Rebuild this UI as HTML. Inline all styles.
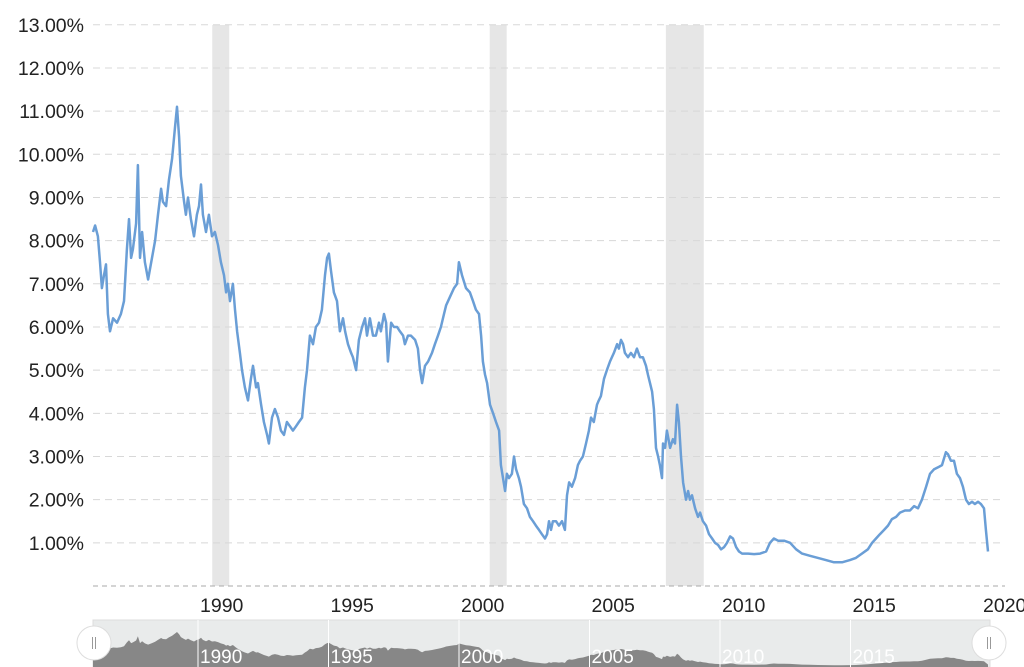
<!DOCTYPE html>
<html><head><meta charset="utf-8"><style>
html,body{margin:0;padding:0;background:#fff;}
svg{display:block;font-family:"Liberation Sans",sans-serif;}
</style></head><body>
<svg id="chart" width="1024" height="667" viewBox="0 0 1024 667" xmlns="http://www.w3.org/2000/svg"></svg>
<script>
const years=[1985.90,1985.98,1986.09,1986.17,1986.24,1986.32,1986.40,1986.47,1986.55,1986.67,1986.82,1986.97,1987.09,1987.20,1987.28,1987.36,1987.43,1987.55,1987.62,1987.70,1987.78,1987.89,1988.01,1988.16,1988.28,1988.39,1988.51,1988.58,1988.70,1988.81,1988.93,1989.04,1989.12,1989.20,1989.27,1989.39,1989.46,1989.54,1989.65,1989.77,1989.88,1989.96,1990.04,1990.11,1990.23,1990.34,1990.46,1990.57,1990.69,1990.80,1990.92,1991.00,1991.07,1991.15,1991.26,1991.34,1991.42,1991.53,1991.61,1991.72,1991.84,1991.95,1992.03,1992.15,1992.22,1992.34,1992.45,1992.57,1992.64,1992.76,1992.87,1992.99,1993.10,1993.22,1993.33,1993.45,1993.56,1993.68,1993.79,1993.91,1994.02,1994.10,1994.21,1994.33,1994.44,1994.56,1994.67,1994.79,1994.87,1994.94,1995.02,1995.13,1995.25,1995.36,1995.48,1995.56,1995.67,1995.79,1995.86,1995.98,1996.09,1996.21,1996.32,1996.40,1996.51,1996.63,1996.74,1996.86,1996.93,1997.05,1997.13,1997.20,1997.32,1997.43,1997.55,1997.66,1997.78,1997.85,1997.97,1998.08,1998.24,1998.35,1998.43,1998.51,1998.62,1998.74,1998.89,1999.00,1999.12,1999.23,1999.35,1999.43,1999.58,1999.73,1999.85,1999.92,2000.04,2000.19,2000.34,2000.46,2000.57,2000.69,2000.77,2000.84,2000.92,2001.00,2001.11,2001.23,2001.34,2001.46,2001.53,2001.61,2001.69,2001.76,2001.84,2001.95,2002.03,2002.11,2002.22,2002.30,2002.41,2002.53,2002.64,2002.76,2002.87,2002.99,2003.10,2003.22,2003.30,2003.37,2003.45,2003.52,2003.64,2003.75,2003.87,2003.98,2004.06,2004.14,2004.25,2004.37,2004.48,2004.56,2004.67,2004.79,2004.90,2004.98,2005.09,2005.21,2005.28,2005.36,2005.48,2005.59,2005.71,2005.78,2005.86,2005.98,2006.05,2006.13,2006.21,2006.28,2006.40,2006.51,2006.63,2006.74,2006.86,2006.97,2007.09,2007.16,2007.24,2007.32,2007.39,2007.47,2007.55,2007.62,2007.70,2007.74,2007.82,2007.89,2008.01,2008.12,2008.20,2008.28,2008.35,2008.43,2008.51,2008.62,2008.70,2008.77,2008.85,2008.97,2009.08,2009.16,2009.27,2009.39,2009.50,2009.62,2009.73,2009.85,2009.96,2010.08,2010.19,2010.31,2010.42,2010.54,2010.65,2010.77,2011.00,2011.23,2011.46,2011.69,2011.84,2011.99,2012.15,2012.38,2012.61,2012.84,2013.07,2013.37,2013.68,2013.98,2014.29,2014.60,2014.90,2015.13,2015.36,2015.59,2015.75,2015.90,2016.05,2016.21,2016.36,2016.51,2016.67,2016.82,2017.01,2017.20,2017.36,2017.51,2017.66,2017.82,2017.97,2018.12,2018.28,2018.43,2018.58,2018.66,2018.77,2018.89,2019.00,2019.12,2019.23,2019.35,2019.46,2019.58,2019.69,2019.81,2019.92,2020.04,2020.11,2020.19];
const rates=[8.2,8.35,8.1,7.5,6.9,7.2,7.45,6.3,5.9,6.2,6.1,6.3,6.6,7.8,8.5,7.6,7.8,8.4,9.75,7.6,8.2,7.5,7.1,7.6,8.0,8.6,9.2,8.9,8.8,9.4,9.9,10.6,11.1,10.4,9.5,8.9,8.6,9.0,8.5,8.1,8.6,8.8,9.3,8.6,8.2,8.6,8.1,8.2,7.9,7.5,7.2,6.8,7.0,6.6,7.0,6.4,5.9,5.4,5.0,4.6,4.3,4.8,5.1,4.6,4.7,4.2,3.8,3.5,3.3,3.9,4.1,3.9,3.6,3.5,3.8,3.7,3.6,3.7,3.8,3.9,4.6,5.0,5.8,5.6,6.0,6.1,6.4,7.2,7.6,7.7,7.3,6.8,6.6,5.9,6.2,5.9,5.6,5.4,5.3,5.0,5.7,6.0,6.2,5.8,6.2,5.8,5.8,6.1,5.9,6.3,6.1,5.2,6.1,6.0,6.0,5.9,5.8,5.6,5.8,5.8,5.7,5.5,5.0,4.7,5.1,5.2,5.4,5.6,5.8,6.0,6.3,6.5,6.7,6.9,7.0,7.5,7.2,6.9,6.8,6.6,6.4,6.3,5.8,5.2,4.9,4.7,4.2,4.0,3.8,3.6,2.8,2.5,2.2,2.6,2.5,2.6,3.0,2.7,2.5,2.3,1.9,1.8,1.6,1.5,1.4,1.3,1.2,1.1,1.2,1.5,1.3,1.5,1.5,1.4,1.5,1.3,2.1,2.4,2.3,2.5,2.8,2.9,3.0,3.3,3.6,3.9,3.8,4.2,4.3,4.4,4.8,5.0,5.2,5.3,5.4,5.6,5.5,5.7,5.6,5.4,5.3,5.4,5.3,5.5,5.3,5.3,5.1,4.9,4.7,4.5,4.1,3.2,3.0,2.8,2.5,3.3,3.2,3.6,3.2,3.4,3.3,4.2,3.8,3.0,2.4,2.0,2.2,2.0,2.1,1.8,1.6,1.7,1.5,1.4,1.2,1.1,1.0,0.95,0.85,0.9,1.0,1.15,1.1,0.9,0.8,0.75,0.75,0.74,0.75,0.8,1.0,1.1,1.05,1.05,1.0,0.85,0.75,0.7,0.65,0.6,0.55,0.55,0.6,0.65,0.75,0.85,1.0,1.1,1.2,1.3,1.4,1.55,1.6,1.7,1.75,1.75,1.85,1.8,2.0,2.3,2.6,2.7,2.75,2.8,3.1,3.05,2.9,2.9,2.6,2.5,2.3,2.0,1.9,1.95,1.9,1.95,1.9,1.8,1.3,0.8];
const yTicks=[1,2,3,4,5,6,7,8,9,10,11,12,13];
const xTicks=[1990,1995,2000,2005,2010,2015,2020];
const navTicks=[1990,1995,2000,2005,2010,2015];
const recessionStarts=[1990.47,2001.1,2007.85];
const recessionEnds=[1991.12,2001.75,2009.3];

const NS='http://www.w3.org/2000/svg';
const svg=document.getElementById('chart');
const X=y=>461+(y-2000)*26.1;
const Y=v=>586-v*43.17;
const NY=v=>667-v*3.15;
function el(tag,attrs,parent){const e=document.createElementNS(NS,tag);for(const k in attrs)e.setAttribute(k,attrs[k]);(parent||svg).appendChild(e);return e;}

for(let i=0;i<recessionStarts.length;i++){
  const r=el('rect',{x:X(recessionStarts[i]),y:25,width:X(recessionEnds[i])-X(recessionStarts[i]),height:561,fill:'#e6e6e6'});
  
  
}
yTicks.forEach(t=>{
  const g=el('line',{x1:93,x2:1005,y1:Y(t),y2:Y(t),stroke:'#d8d8d8','stroke-width':1,'stroke-dasharray':'7,5'});
  
  
  const tx=el('text',{x:84,y:Y(t)+7,'text-anchor':'end','font-size':19.5,fill:'#222'});
  tx.textContent=t.toFixed(2)+'%';
  
  
});
const base=el('line',{x1:93,x2:1005,y1:586,y2:586,stroke:'#aaa','stroke-width':1,'stroke-dasharray':'5,4'});


xTicks.forEach(t=>{
  const tx=el('text',{x:X(t),y:612,'font-size':19.5,fill:'#222'});
  tx.textContent=t;
  
  
});
let d='';
years.forEach((yr,i)=>{d+=(i?'L':'M')+X(yr).toFixed(1)+','+Y(rates[i]).toFixed(1);});
const line=el('path',{d:d,fill:'none',stroke:'#6a9ed6','stroke-width':2.5,'stroke-linejoin':'round'});



const nav=el('rect',{x:93,y:620,width:897,height:47,fill:'#e9ebeb',stroke:'#ddd'});


let nd='M'+X(years[0]).toFixed(1)+',667';
years.forEach((yr,i)=>{nd+='L'+X(yr).toFixed(1)+','+NY(rates[i]).toFixed(1);});
nd+='L'+X(years[years.length-1]).toFixed(1)+',667Z';
const na=el('path',{d:nd,fill:'#878787'});


navTicks.forEach(t=>{
  const l=el('line',{x1:X(t)-2,x2:X(t)-2,y1:620,y2:667,stroke:'#fff','stroke-width':1});
  
  
  const tx=el('text',{x:X(t),y:663,'font-size':19,fill:'#fff'});
  tx.textContent=t;
  
  
});
[94,989].forEach((cx,i)=>{
  const g=el('g',{});
  
  
  el('circle',{cx:cx,cy:643,r:17,fill:'#fff',stroke:'#ddd'},g);
  el('line',{x1:cx-1.5,x2:cx-1.5,y1:637,y2:649,stroke:'#999'},g);
  el('line',{x1:cx+1.5,x2:cx+1.5,y1:637,y2:649,stroke:'#999'},g);
});
</script>
</body></html>
